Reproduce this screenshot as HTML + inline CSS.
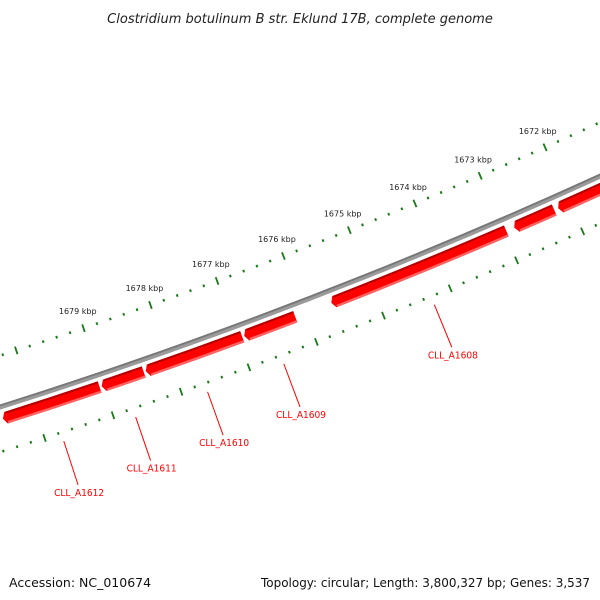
<!DOCTYPE html>
<html><head><meta charset="utf-8"><style>
html,body{margin:0;padding:0;background:#fff;}
svg{display:block;}
text{font-family:"DejaVu Sans","Liberation Sans",sans-serif;}
</style></head><body>
<svg id="map" width="600" height="600" viewBox="0 0 600 600" xmlns="http://www.w3.org/2000/svg">
<rect width="600" height="600" fill="#fff"/>
<text x="300" y="23" text-anchor="middle" font-size="13" font-style="italic" fill="#222">Clostridium botulinum B str. Eklund 17B, complete genome</text>
<g id="ticks-outer"></g>
<g id="ticks-inner"></g>
<g id="backbone"></g>
<g id="genes"></g>
<g id="labels"></g>
<text x="9" y="587" font-size="12.5" fill="#111">Accession: NC_010674</text>
<text x="590" y="587" text-anchor="end" font-size="12.5" fill="#111" textLength="329" lengthAdjust="spacingAndGlyphs">Topology: circular; Length: 3,800,327 bp; Genes: 3,537</text>
</svg>
<script>
// data (kbp)
const tickLabelsKbp = [1672, 1673, 1674, 1675, 1676, 1677, 1678, 1679];
const geneNames  = ["", "", "CLL_A1608", "CLL_A1609", "CLL_A1610", "CLL_A1611", "CLL_A1612", ""];
const geneStarts = [1671.0, 1672.24, 1672.97, 1676.15, 1676.94, 1678.40, 1679.05, 1680.55];
const geneEnds   = [1672.18, 1672.85, 1675.61, 1676.91, 1678.37, 1679.02, 1680.47, 1681.6];

const NS = "http://www.w3.org/2000/svg";
const CX = -1599, CY = -4646;
const A0 = 68.22, DEG_PER_KBP = 0.773;
function ang(k){ return (A0 + (k - 1675) * DEG_PER_KBP) * Math.PI / 180; }
function pt(r, k){ const t = ang(k); return [CX + r * Math.cos(t), CY + r * Math.sin(t)]; }
function mk(tag, attrs, parent){
  const e = document.createElementNS(NS, tag);
  for (const a in attrs) e.setAttribute(a, attrs[a]);
  parent.appendChild(e); return e;
}
function arc(r, k1, k2){
  const p1 = pt(r, k1), p2 = pt(r, k2);
  return "M" + p1[0].toFixed(2) + "," + p1[1].toFixed(2) + " A" + r + "," + r + " 0 0 1 " + p2[0].toFixed(2) + "," + p2[1].toFixed(2);
}

// tick rings
const gO = document.getElementById("ticks-outer");
const gI = document.getElementById("ticks-inner");
for (let i = 0; i <= 70; i++) {
  const k = 1669 + i * 0.2;
  const major = Math.abs(k - Math.round(k)) < 1e-6;
  [[gO, 5251], [gI, 5343]].forEach(function(pair){
    const r = pair[1];
    const len = major ? 4 : 1.3;
    const a = pt(r - len, k), b = pt(r + len, k);
    const t = mk("line", {x1:a[0], y1:a[1], x2:b[0], y2:b[1], stroke:"#1a7a1a", "stroke-width": major ? 1.8 : 2}, pair[0]);
    
    
  });
}
tickLabelsKbp.forEach(function(k){
  const p = pt(5233, k);
  const t = mk("text", {x:p[0].toFixed(2), y:(p[1] + 3).toFixed(2), "text-anchor":"middle", "font-size":"8", fill:"#222"}, gO);
  t.textContent = k + " kbp";
  
  
});

// backbone
const gB = document.getElementById("backbone");
const bb1 = mk("path", {d:arc(5300, 1664, 1686), fill:"none", stroke:"#9a9a9a", "stroke-width":"5"}, gB);


const bb2 = mk("path", {d:arc(5298.5, 1664, 1686), fill:"none", stroke:"#777", "stroke-width":"1.8"}, gB);



// genes
const gG = document.getElementById("genes");
const gL = document.getElementById("labels");
const RIN = 5306, ROUT = 5318, HEAD = 0.045;
for (let i = 0; i < geneStarts.length; i++) {
  const a = geneStarts[i], b = geneEnds[i];
  const rm = (RIN + ROUT) / 2;
  const p1 = pt(RIN, b - HEAD), pm = pt(rm, b), p3 = pt(ROUT, b - HEAD), p4 = pt(ROUT, a);
  const d = arc(RIN, a, b - HEAD) + " L" + pm[0].toFixed(2) + "," + pm[1].toFixed(2) +
    " L" + p3[0].toFixed(2) + "," + p3[1].toFixed(2) +
    " A" + ROUT + "," + ROUT + " 0 0 0 " + p4[0].toFixed(2) + "," + p4[1].toFixed(2) + " Z";
  const g = mk("path", {d:d, fill:"#ff0000"}, gG);
  
  
  const s1 = mk("path", {d:arc(RIN + 1, a, b - HEAD - 0.01), fill:"none", stroke:"#b30000", "stroke-width":"2"}, gG);
  
  
  const s2 = mk("path", {d:arc(ROUT - 1.2, a, b - HEAD - 0.01), fill:"none", stroke:"#ff6464", "stroke-width":"2.2"}, gG);
  
  
  if (geneNames[i]) {
    const mid = (a + b) / 2;
    const l1 = pt(5352, mid), l2 = pt(5398, mid);
    const ln = mk("line", {x1:l1[0], y1:l1[1], x2:l2[0], y2:l2[1], stroke:"#ff0000", "stroke-width":"1"}, gL);
    
    
    const tx = mk("text", {x:(l2[0] + 1).toFixed(2), y:(l2[1] + 11).toFixed(2), "text-anchor":"middle", "font-size":"10", fill:"#ff0000", textLength:"50", lengthAdjust:"spacingAndGlyphs"}, gL);
    tx.textContent = geneNames[i];
    
    
  }
}
</script>
</body></html>
